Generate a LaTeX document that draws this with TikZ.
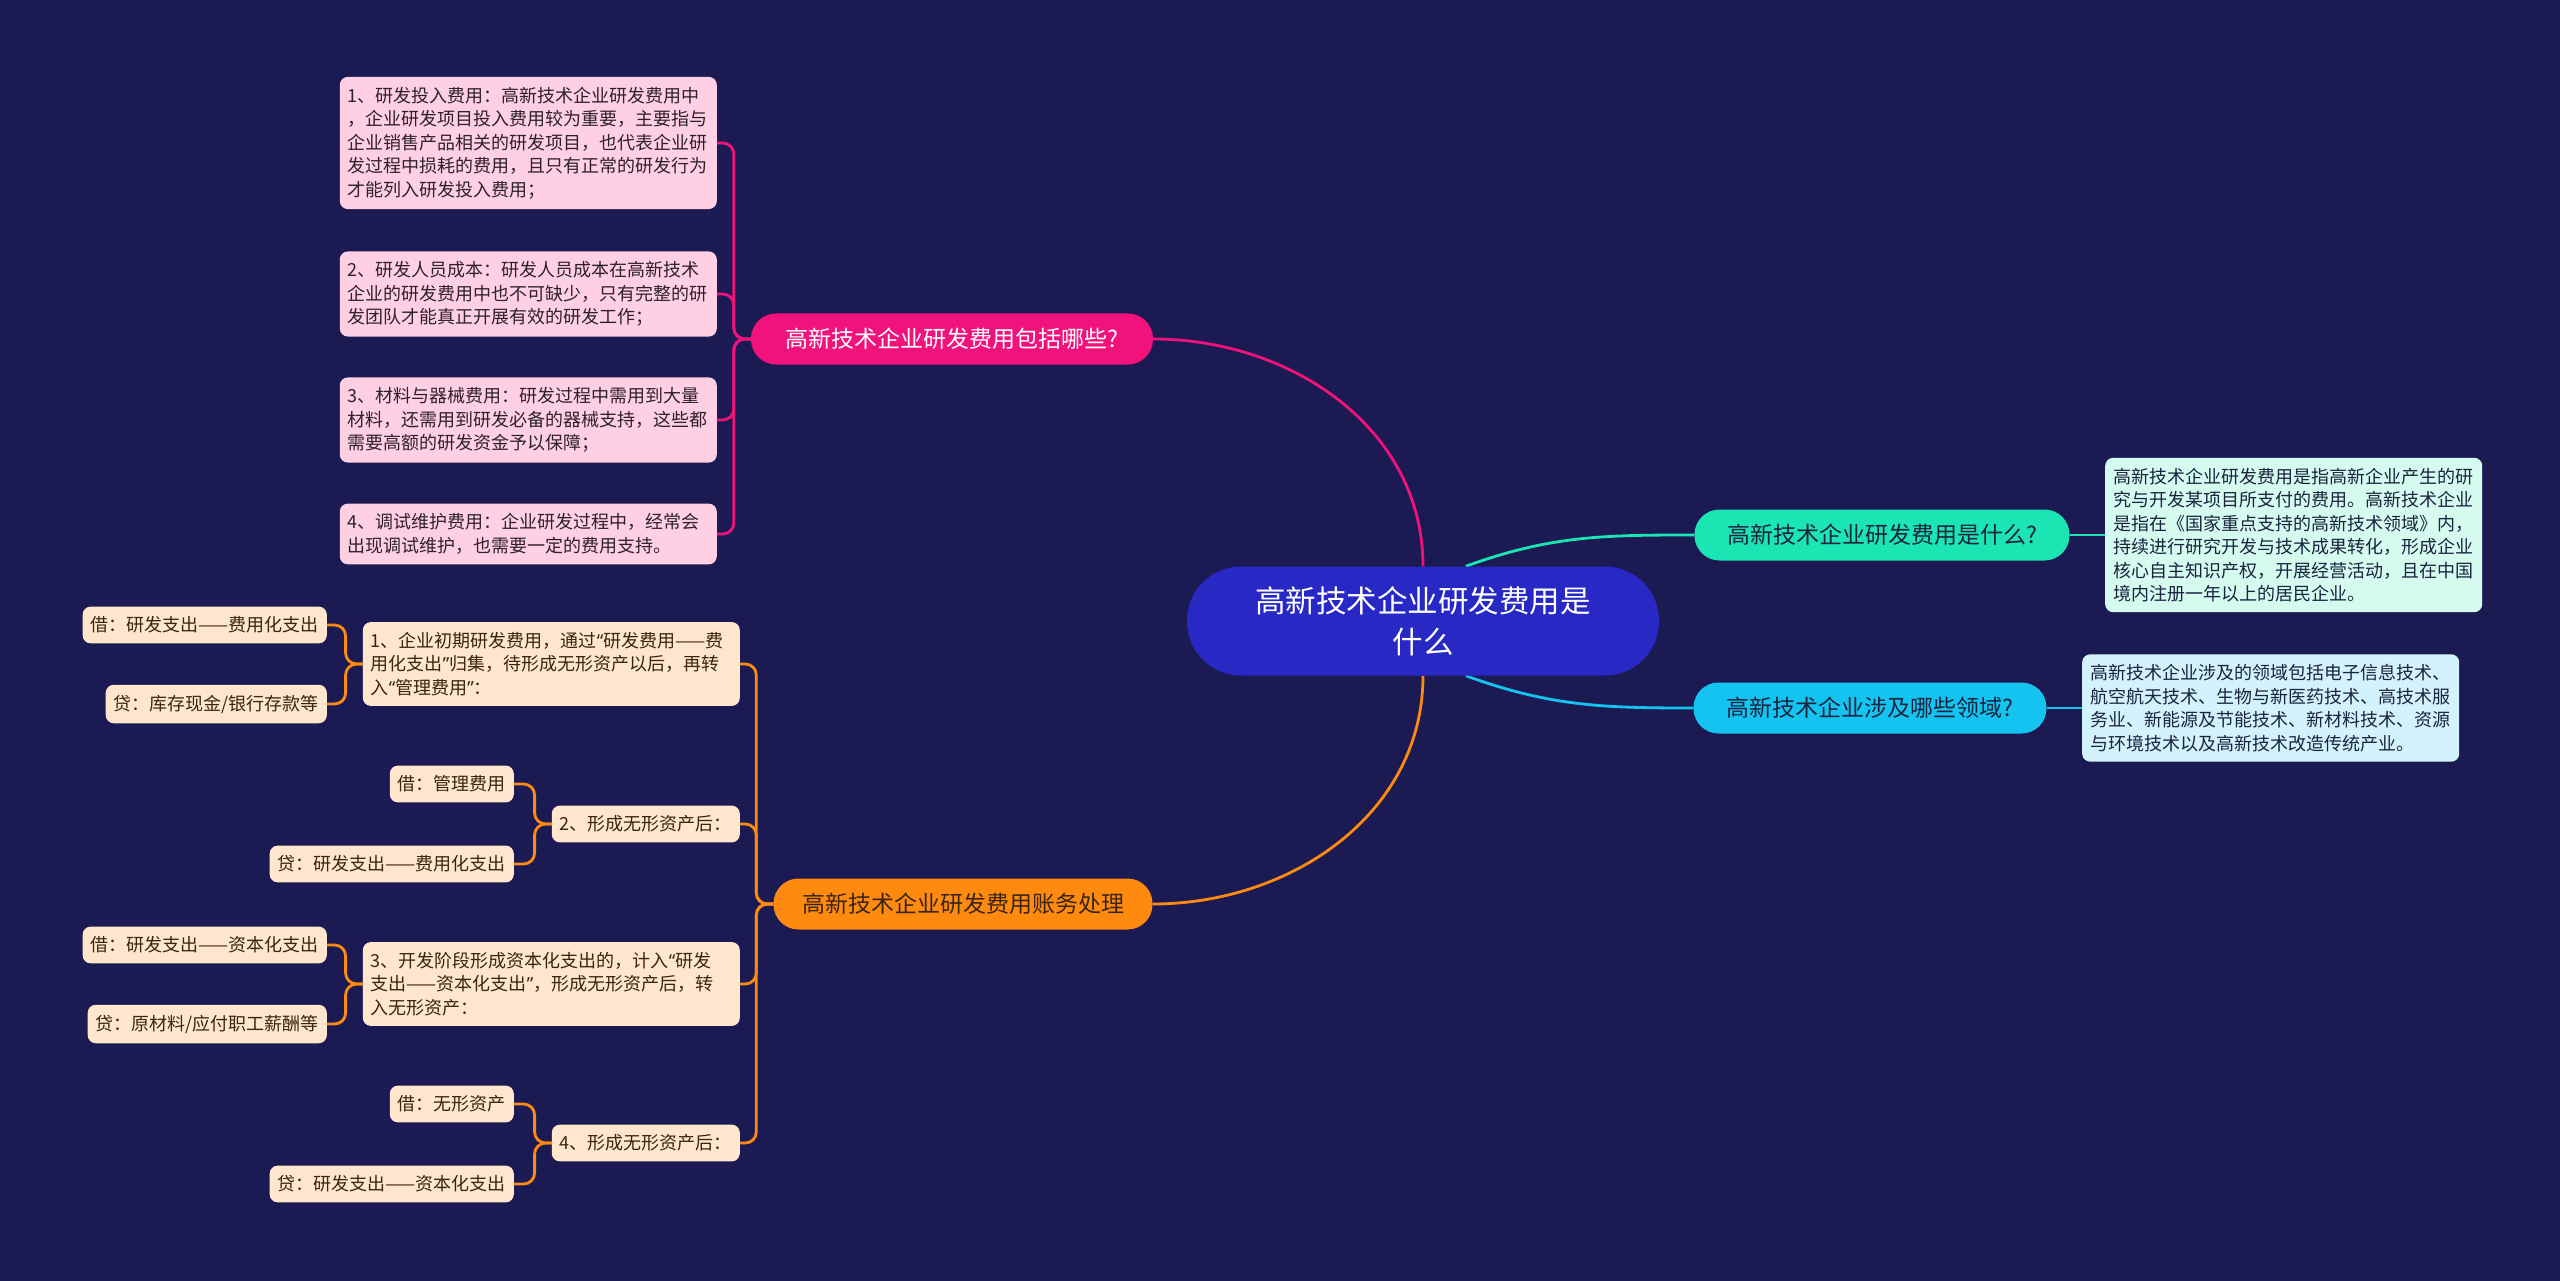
\documentclass[tikz,border=0pt]{standalone}
\usepackage{fontspec}
\setmainfont{Noto Sans CJK SC}
\newfontfamily\latin{Noto Sans}
\newcommand\qo{{\latin “}}
\newcommand\qc{{\latin ”}}
\usepackage{xcolor}
\usetikzlibrary{positioning,calc,backgrounds}
\definecolor{bg}{HTML}{1B1A53}
\definecolor{rootc}{HTML}{2828C4}
\definecolor{pk}{HTML}{F2127B}
\definecolor{pkl}{HTML}{FFCFE3}
\definecolor{og}{HTML}{FF8A10}
\definecolor{ogl}{HTML}{FFE6CC}
\definecolor{gn}{HTML}{1CE5B4}
\definecolor{gnl}{HTML}{D5FBEF}
\definecolor{cy}{HTML}{14C4F0}
\definecolor{cyl}{HTML}{D3F3FC}
\definecolor{dtxt}{HTML}{2E2228}
\definecolor{otxt}{HTML}{3A2512}
\definecolor{ntxt}{HTML}{1A2340}

\begin{document}
\begin{tikzpicture}[x=1pt,y=-1pt,
  leaf/.style={rounded corners=8pt,inner xsep=8pt,inner ysep=10pt,align=left,font=\fontsize{18}{23.5}\selectfont},
  wide/.style={leaf,text width=361pt},
  br/.style={rounded corners=25pt,minimum height=51pt,font=\fontsize{23}{28}\selectfont},
  ln/.style={line width=2.8pt},
  brk/.style={ln,rounded corners=11pt}]
\useasboundingbox (0,0) rectangle (2560,1281);
% centre and branches
\node[fill=rootc,text=white,rounded corners=54pt,minimum width=472pt,minimum height=109pt,align=center,font=\fontsize{30.5}{41}\selectfont] (root) at (1423,621) {高新技术企业研发费用是\\什么};
\node[br,fill=pk,text=white,minimum width=402pt] (pkq) at (952,339) {高新技术企业研发费用包括哪些?};
\node[br,fill=og,text=otxt,minimum width=379pt] (acct) at (963,904) {高新技术企业研发费用账务处理};
\node[br,fill=gn,text=ntxt,minimum width=375pt] (what) at (1882,535) {高新技术企业研发费用是什么?};
\node[br,fill=cy,text=ntxt,minimum width=353pt] (field) at (1870,708) {高新技术企业涉及哪些领域?};
% right leaves
\node[wide,fill=gnl,text=ntxt,anchor=west] (whatd) at (2105,535) {高新技术企业研发费用是指高新企业产生的研\\究与开发某项目所支付的费用。高新技术企业\\是指在《国家重点支持的高新技术领域》内，\\持续进行研究开发与技术成果转化，形成企业\\核心自主知识产权，开展经营活动，且在中国\\境内注册一年以上的居民企业。};
\node[wide,fill=cyl,text=ntxt,anchor=west] (fieldd) at (2082,708) {高新技术企业涉及的领域包括电子信息技术、\\航空航天技术、生物与新医药技术、高技术服\\务业、新能源及节能技术、新材料技术、资源\\与环境技术以及高新技术改造传统产业。};
% pink leaves
\node[wide,fill=pkl,text=dtxt,anchor=east] (pk1) at (717,143) {1、研发投入费用：高新技术企业研发费用中\\，企业研发项目投入费用较为重要，主要指与\\企业销售产品相关的研发项目，也代表企业研\\发过程中损耗的费用，且只有正常的研发行为\\才能列入研发投入费用；};
\node[wide,fill=pkl,text=dtxt,anchor=east] (pk2) at (717,294) {2、研发人员成本：研发人员成本在高新技术\\企业的研发费用中也不可缺少，只有完整的研\\发团队才能真正开展有效的研发工作；};
\node[wide,fill=pkl,text=dtxt,anchor=east] (pk3) at (717,420) {3、材料与器械费用：研发过程中需用到大量\\材料，还需用到研发必备的器械支持，这些都\\需要高额的研发资金予以保障；};
\node[wide,fill=pkl,text=dtxt,anchor=east] (pk4) at (717,534) {4、调试维护费用：企业研发过程中，经常会\\出现调试维护，也需要一定的费用支持。};
% orange steps
\node[wide,fill=ogl,text=otxt,anchor=east] (ac1) at (740,664) {1、企业初期研发费用，通过\qo 研发费用——费\\用化支出\qc 归集，待形成无形资产以后，再转\\入\qo 管理费用\qc ：};
\node[leaf,fill=ogl,text=otxt,anchor=east] (ac2) at (740,824) {2、形成无形资产后：};
\node[wide,fill=ogl,text=otxt,anchor=east] (ac3) at (740,984) {3、开发阶段形成资本化支出的，计入\qo 研发\\支出——资本化支出\qc ，形成无形资产后，转\\入无形资产：};
\node[leaf,fill=ogl,text=otxt,anchor=east] (ac4) at (740,1143) {4、形成无形资产后：};
% entries
\node[leaf,fill=ogl,text=otxt,anchor=east] (ac1a) at (327,625) {借：研发支出——费用化支出};
\node[leaf,fill=ogl,text=otxt,anchor=east] (ac1b) at (327,704) {贷：库存现金/银行存款等};
\node[leaf,fill=ogl,text=otxt,anchor=east] (ac2a) at (514,784) {借：管理费用};
\node[leaf,fill=ogl,text=otxt,anchor=east] (ac2b) at (514,864) {贷：研发支出——费用化支出};
\node[leaf,fill=ogl,text=otxt,anchor=east] (ac3a) at (327,945) {借：研发支出——资本化支出};
\node[leaf,fill=ogl,text=otxt,anchor=east] (ac3b) at (327,1024) {贷：原材料/应付职工薪酬等};
\node[leaf,fill=ogl,text=otxt,anchor=east] (ac4a) at (514,1104) {借：无形资产};
\node[leaf,fill=ogl,text=otxt,anchor=east] (ac4b) at (514,1184) {贷：研发支出——资本化支出};
\begin{scope}[on background layer]
\fill[bg] (0,0) rectangle (2560,1281);
\draw[ln,pk] (root.north) to[out=90,in=0] (pkq.east);
\draw[ln,og] (root.south) to[out=-90,in=0] (acct.east);
\draw[ln,gn] (root.52) to[out=20,in=180] (what.west);
\draw[ln,cy] (root.-52) to[out=-20,in=180] (field.west);
\draw[ln,gn] (what.east) -- (whatd.west);
\draw[ln,cy] (field.east) -- (fieldd.west);
\foreach \n in {pk1,pk2,pk3,pk4} \draw[brk,pk] (pkq.west) -- ++(-17,0) |- (\n.east);
\foreach \n in {ac1,ac2,ac3,ac4} \draw[brk,og] (acct.west) -- ++(-17,0) |- (\n.east);
\foreach \p in {1,2,3,4} \foreach \s in {a,b} \draw[brk,og] (ac\p.west) -- ++(-17,0) |- (ac\p\s.east);
\end{scope}
\end{tikzpicture}
\end{document}
